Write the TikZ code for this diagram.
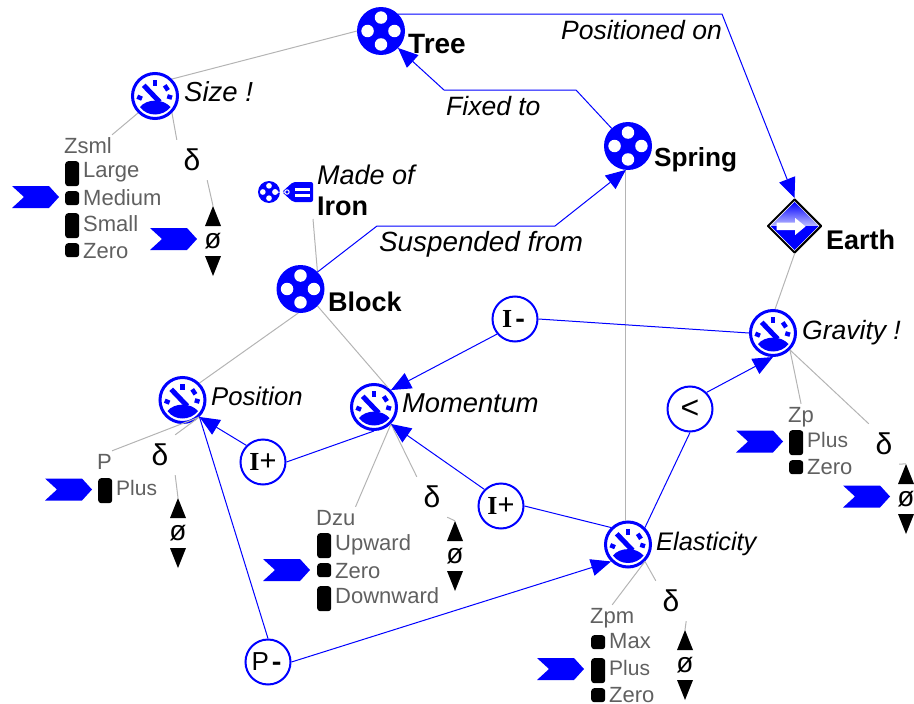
\documentclass[tikz,border=0pt]{standalone}
\usepackage{fontspec}
\setmainfont{Liberation Sans}
\newfontfamily\monof{Liberation Mono}
\newfontfamily\serif{Liberation Serif}
\usetikzlibrary{arrows.meta,shapes.geometric}
\definecolor{glink}{HTML}{B4B4B4}
\definecolor{gtext}{HTML}{606060}
\newcommand{\fs}[1]{\fontsize{#1}{#1}\selectfont}
\newcommand{\Iglyph}{{\serif\bfseries\fs{26}I}}
\tikzset{
  entity/.style={circle,fill=blue,minimum size=2*#1 pt,inner sep=0pt,outer sep=0pt},
  entity/.default=24,
  gauge/.style={circle,draw=blue,line width=3pt,fill=white,minimum size=45pt,inner sep=0pt},
  relation/.style={circle,draw=blue,line width=2pt,fill=white,minimum size=45pt,inner sep=0pt},
  earthbox/.style={diamond,draw=black,line width=2pt,line join=round,fill=white,minimum size=54pt,inner sep=0pt},
  lblbold/.style={anchor=base west,inner sep=0pt,font=\fs{27}\bfseries},
  lblital/.style={anchor=base west,inner sep=0pt,font=\fs{#1}\itshape},
  lblital/.default=26.5,
  lblgray/.style={anchor=base west,inner sep=0pt,font=\fs{22},text=gtext},
  statehead/.style={anchor=base west,inner sep=0pt,font=\fs{22},text=gtext,text height=18pt,text depth=5pt},
  pill/.style={anchor=north west,fill=black,rounded corners=3pt,minimum width=14pt,minimum height=#1 pt,inner sep=0pt},
  pill/.default=25,
  deltabox/.style={minimum width=30pt,minimum height=40pt,inner sep=0pt,font=\fs{30}},
  updown/.style={minimum width=16pt,minimum height=70pt,inner sep=0pt,font=\fs{28}},
  glinkline/.style={draw=glink,line width=1pt},
  blink/.style={draw=blue,line width=1pt},
  barrow/.style={draw=blue,line width=1pt,-{Triangle[length=20pt,width=17pt,fill=blue]}},
  chev/.pic={\fill[blue] (-47,-11) -- (-10,-11) -- (0,0) -- (-10,11) -- (-47,11) -- (-35,0) -- cycle;},
}
\newcommand{\entityart}[2]{%
  \begin{scope}[shift={(#1.center)}]
    \fill[white] (0,{-0.56*#2}) circle ({0.26*#2});
    \fill[white] (0,{0.56*#2}) circle ({0.26*#2});
    \fill[white] ({-0.56*#2},0) circle ({0.26*#2});
    \fill[white] ({0.56*#2},0) circle ({0.26*#2});
  \end{scope}}
\newcommand{\gaugeart}[1]{%
  \begin{scope}[shift={(#1.center)}]
    \fill[blue] (-15,11) .. controls (-8,2.5) and (8,2.5) .. (15.5,11) .. controls (8,21) and (-8,21) .. cycle;
    \draw[blue,line width=5pt] (-11.3,-10.7) -- (4.7,6);
    \draw[blue,line width=4.4pt] (-17.7,0.7) -- (-13,2.7);
    \draw[blue,line width=4.4pt] (0,-15.7) -- (0,-10);
    \draw[blue,line width=4.4pt] (9.7,-10.7) -- (13,-5.7);
    \draw[blue,line width=4.4pt] (12.3,0.3) -- (17,1.7);
  \end{scope}}
\newcommand{\updownart}[1]{%
  \begin{scope}[shift={(#1.center)}]
    \fill[black] (0,-35) -- (8,-15) -- (-8,-15) -- cycle;
    \fill[black] (0,35) -- (8,15) -- (-8,15) -- cycle;
  \end{scope}}
\begin{document}
\begin{tikzpicture}[x=1pt,y=-1pt]
\useasboundingbox (0,0) rectangle (914,704);
% main nodes
\node[entity] (tree) at (381,31) {}; \entityart{tree}{24}
\node[entity] (spring) at (628,146) {}; \entityart{spring}{24}
\node[entity] (block) at (300.5,289) {}; \entityart{block}{24}
\node[gauge] (size) at (155,96) {}; \gaugeart{size}
\node[gauge] (position) at (182.5,400) {}; \gaugeart{position}
\node[gauge] (momentum) at (374,407) {}; \gaugeart{momentum}
\node[gauge] (gravity) at (773,333) {}; \gaugeart{gravity}
\node[gauge] (elasticity) at (628,544.5) {}; \gaugeart{elasticity}
\node[earthbox] (earth) at (794.5,226) {};
\begin{scope}[shift={(earth.center)}]
  \shade[top color=blue,bottom color=white!75!blue] (0,-24) -- (24,0) -- (-24,0) -- cycle;
  \fill[blue] (-24,0) -- (24,0) -- (0,24) -- cycle;
  \fill[white] (-18,-3.5) -- (0.7,-3.5) -- (0.7,-8) -- (11,0.5) -- (0.7,9) -- (0.7,4) -- (-18,4) -- cycle;
\end{scope}
\node[relation,font=\fs{26}] (iminus) at (515,319) {\Iglyph{\monof\bfseries -}};
\node[relation,font=\fs{29}] (iplusa) at (263,462) {\Iglyph+};
\node[relation,font=\fs{29}] (iplusb) at (501,506) {\Iglyph+};
\node[relation,font=\fs{32}] (less) at (690,409) {<};
\node[relation,font=\fs{26}] (pminus) at (268,662) {P{\monof\bfseries -}};
% names
\node[lblbold,font=\fs{28}\bfseries] (ttree) at (408,53) {Tree};
\node[lblbold,font=\fs{26.2}\bfseries] (tspring) at (654,166) {Spring};
\node[lblbold] (tblock) at (328,311) {Block};
\node[lblbold] (tearth) at (826,249) {Earth};
\node[lblbold] (tiron) at (317,215) {Iron};
\node[lblital=27] (tmade) at (317,184) {Made of};
\node[lblital=27.5] (tsize) at (184,101) {Size !};
\node[lblital=25.7] (tpos) at (211,405) {Position};
\node[lblital=27.3] (tmom) at (402,412) {Momentum};
\node[lblital] (tgrav) at (802,339) {Gravity !};
\node[lblital=25.4] (telas) at (656,550) {Elasticity};
\node[lblital] (tposon) at (561,39) {Positioned on};
\node[lblital] (tfixed) at (446,115) {Fixed to};
\node[lblital=27.8] (tsusp) at (379,251) {Suspended from};
% tag icon
\node[entity=11] (tagtank) at (269,192) {}; \entityart{tagtank}{11}
\fill[blue,rounded corners=2pt] (282,192) -- (293,182) -- (313,182) -- (313,202) -- (293,202) -- cycle;
\fill[white] (295,187.5) rectangle (310,190.5);
\fill[white] (295,193.5) rectangle (310,196.5);
\draw[white,line width=1pt] (275,192) circle (2.2) (287,192) circle (2.2) (277,192) -- (285,192);
\coordinate (ironend) at (313,219);
% Size states
\node[statehead] (zsml) at (64,153) {Zsml};
\node[pill] (s1) at (65,161) {};
\node[pill=14] (s2) at (65,191) {};
\node[pill] (s3) at (65,213) {};
\node[pill=14] (s4) at (65,243) {};
\node[lblgray] (s1t) at (83,177) {Large};
\node[lblgray] (s2t) at (83,205) {Medium};
\node[lblgray] (s3t) at (83,231) {Small};
\node[lblgray] (s4t) at (83,258) {Zero};
\pic at (59,197) {chev};
\node[deltabox] (dsize) at (192,160) {δ};
\node[updown] (usize) at (213,241) {ø}; \updownart{usize}
\pic at (197,239) {chev};
% Position states
\node[statehead] (pp) at (97,469) {P};
\node[pill] (p1) at (98,478) {};
\node[lblgray,font=\fs{21}] (p1t) at (116,495) {Plus};
\pic at (92,489.5) {chev};
\node[deltabox] (dpos) at (160,455) {δ};
\node[updown] (upos) at (178,533) {ø}; \updownart{upos}
% Momentum states
\node[statehead] (dzu) at (316,525) {Dzu};
\node[pill] (m1) at (317,533) {};
\node[pill=14] (m2) at (317,563) {};
\node[pill] (m3) at (317,586) {};
\node[lblgray] (m1t) at (335,550) {Upward};
\node[lblgray] (m2t) at (335,578) {Zero};
\node[lblgray] (m3t) at (335,603) {Downward};
\pic at (310,570) {chev};
\node[deltabox] (dmom) at (432,497) {δ};
\node[updown] (umom) at (455,556) {ø}; \updownart{umom}
% Gravity states
\node[statehead] (zp) at (788,422) {Zp};
\node[pill] (g1) at (789,430) {};
\node[pill=14] (g2) at (789,460) {};
\node[lblgray,font=\fs{21}] (g1t) at (807,447) {Plus};
\node[lblgray] (g2t) at (807,474) {Zero};
\pic at (783,441.5) {chev};
\node[deltabox] (dgrav) at (884,444) {δ};
\node[updown] (ugrav) at (906,499) {ø}; \updownart{ugrav}
\pic at (890,496.5) {chev};
% Elasticity states
\node[statehead] (zpm) at (590,623) {Zpm};
\node[pill=14] (e1) at (591,635) {};
\node[pill] (e2) at (591,658) {};
\node[pill=14] (e3) at (591,688) {};
\node[lblgray] (e1t) at (609,648) {Max};
\node[lblgray,font=\fs{21}] (e2t) at (609,675) {Plus};
\node[lblgray] (e3t) at (609,702) {Zero};
\pic at (584,669) {chev};
\node[deltabox] (delas) at (671,601) {δ};
\node[updown] (uelas) at (685,665) {ø}; \updownart{uelas}
% grey links
\draw[glinkline] (tree.west) -- (size.45);
\draw[glinkline] (size.225) -- (zsml.north east);
\draw[glinkline] (size.-45) -- (dsize.north west);
\draw[glinkline] (dsize.south east) -- (usize.north);
\draw[glinkline] (ironend) -- (block.45);
\draw[glinkline] (block.265) -- (position.45);
\draw[glinkline] (block.-45) -- (momentum.55);
\draw[glinkline] (position.-45) -- (pp.north east);
\draw[glinkline] (position.-45) -- (dpos.north east);
\draw[glinkline] (dpos.south east) -- (upos.north);
\draw[glinkline] (momentum.-45) -- (dzu.north east);
\draw[glinkline] (momentum.-45) -- (dmom.north west);
\draw[glinkline] (dmom.south east) -- (umom.north);
\draw[glinkline] (spring.265) -- (elasticity.95);
\draw[glinkline] (earth.south) -- (gravity.85);
\draw[glinkline] (gravity.-45) -- (zp.north);
\draw[glinkline] (gravity.-45) -- (dgrav.north west);
\draw[glinkline] (dgrav.south east) -- (ugrav.north);
\draw[glinkline] (elasticity.-45) -- (zpm.north);
\draw[glinkline] (elasticity.-45) -- (delas.north west);
\draw[glinkline] (delas.south east) -- (uelas.north);
% blue links
\coordinate (b1) at (722,14);
\coordinate (b2) at (576,90);
\coordinate (b3) at (444,90);
\coordinate (b4) at (377,226);
\coordinate (b5) at (555,226);
\draw[barrow] (tree.45) -- (b1) -- (earth.north);
\draw[barrow] (spring) -- (b2) -- (b3) -- (tree.-45);
\draw[barrow] (block.45) -- (b4) -- (b5) -- (spring.265);
\draw[barrow] (iminus.220) -- (momentum.45);
\draw[blink] (iminus.east) -- (gravity.west);
\draw[barrow] (less.45) -- (gravity.south);
\draw[blink] (elasticity.45) -- (less.south);
\draw[blink] (iplusb.east) -- (elasticity.135);
\draw[barrow] (iplusb.135) -- (momentum.-45);
\draw[blink] (iplusa.east) -- (momentum.south);
\draw[barrow] (iplusa.135) -- (position.-45);
\draw[blink] (pminus.north) -- (position.-45);
\draw[barrow] (pminus.east) -- (elasticity.225);
\end{tikzpicture}
\end{document}
